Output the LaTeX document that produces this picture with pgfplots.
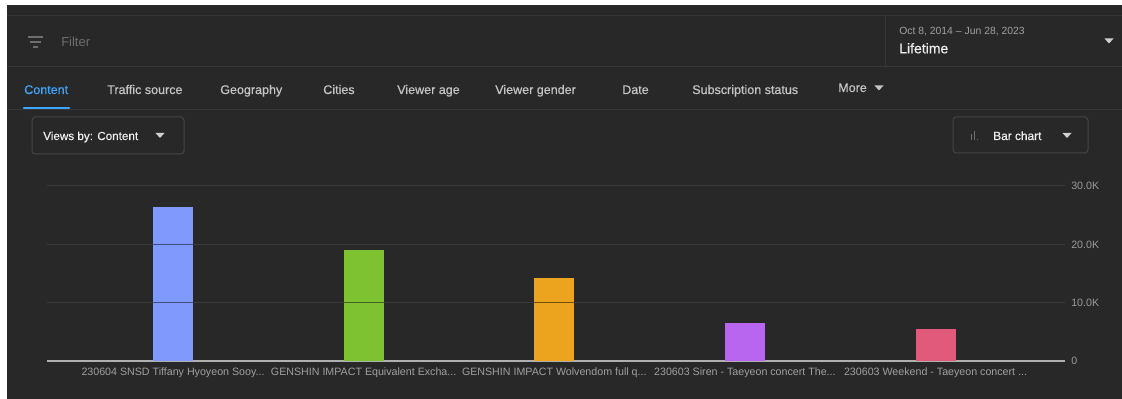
\documentclass[border=0pt]{standalone}
\usepackage{pgfplots}
\pgfplotsset{compat=1.18}
\usepackage{fontspec}
\setmainfont{Liberation Sans}
\newfontfamily\med[FakeBold=0.6]{Liberation Sans}
\definecolor{bg}{HTML}{282828}
\definecolor{sep}{HTML}{363636}
\definecolor{boxc}{HTML}{454545}
\definecolor{gridc}{HTML}{3A3A3A}
\definecolor{basec}{HTML}{B0B0B0}
\definecolor{tabtxt}{HTML}{C4C4C4}
\definecolor{dimtxt}{HTML}{A0A0A0}
\definecolor{ticktxt}{HTML}{9A9A9A}
\definecolor{filtc}{HTML}{6E6E6E}
\definecolor{brt}{HTML}{EEEEEE}
\definecolor{tri}{HTML}{D0D0D0}
\definecolor{ytab}{HTML}{3EA6FF}
\definecolor{cA}{HTML}{7F9AFC}
\definecolor{cB}{HTML}{7EC232}
\definecolor{cC}{HTML}{ECA41E}
\definecolor{cD}{HTML}{B866F0}
\definecolor{cE}{HTML}{E15A7B}
\newcommand{\fs}[1]{\fontsize{#1}{#1}\selectfont}
\newcommand{\dts}{...}
\begin{document}
\begin{tikzpicture}
\begin{scope}[x=0.75pt,y=-0.75pt]
\fill[bg,use as bounding box] (0,0) rectangle (1122,399);
\fill[white] (0,0) rectangle (1122,5);
\fill[white] (0,0) rectangle (7,399);
% separators
\draw[sep,line width=0.75pt] (7,16) -- (1122,16);
\draw[sep,line width=0.75pt] (7,67) -- (1122,67);
\draw[sep,line width=0.75pt] (7,110) -- (1122,110);
\draw[sep,line width=0.75pt] (885,16) -- (885,67);
% filter
\draw[color=filtc,line width=1.1pt] (28,37) -- (43,37);
\draw[color=filtc,line width=1.1pt] (30,42) -- (41,42);
\draw[color=filtc,line width=1.1pt] (33,47) -- (38,47);
\node[anchor=base west,inner sep=0pt,text=filtc,font=\fs{9.75}] at (61,46.5) {Filter};
% date
\node[anchor=base west,inner sep=0pt,text=dimtxt,font=\fs{7.8}] at (899,34.3) {Oct 8, 2014 – Jun 28, 2023};
\node[anchor=base west,inner sep=0pt,text=brt,font=\med\fs{10.5}] at (899,53.3) {Lifetime};
\fill[tri] (1104.5,38.5) -- (1113.5,38.5) -- (1109,43.5) -- cycle;
% tabs
\node[anchor=base west,inner sep=0pt,text=ytab,font=\med\fs{9.4}] at (24,94) {Content};
\draw[ytab,line width=2pt,line cap=round] (24,108) -- (69,108);
\foreach \xx/\tt in {107/Traffic source,220/Geography,323/Cities,397/Viewer age,495/Viewer gender,622/Date,692/Subscription status}{
  \node[anchor=base west,inner sep=0pt,text=tabtxt,font=\med\fs{9.4}] at (\xx,94) {\tt};
}
\node[anchor=base west,inner sep=0pt,text=tabtxt,font=\med\fs{9.4}] at (838,92) {More};
\fill[tabtxt] (874.5,85.5) -- (883.5,85.5) -- (879,90.5) -- cycle;
% views by box
\draw[color=boxc,line width=0.75pt,rounded corners=2.5pt] (32,117) rectangle (184,154);
\node[anchor=base west,inner sep=0pt,text=brt,font=\med\fs{8.75}] at (43,140) {Views by: Content};
\fill[tri] (155.5,133) -- (164.5,133) -- (160,138) -- cycle;
% bar chart box
\draw[color=boxc,line width=0.75pt,rounded corners=2.5pt] (953,117) rectangle (1088,153);
\fill[filtc] (970.5,134) rectangle (971.5,140);
\fill[filtc] (973.5,131) rectangle (974.5,140);
\fill[filtc] (976.5,139) rectangle (977.5,140);
\node[anchor=base west,inner sep=0pt,text=brt,font=\med\fs{8.9}] at (993,140) {Bar chart};
\fill[tri] (1062.5,133) -- (1071.5,133) -- (1067,138) -- cycle;
\end{scope}
\begin{axis}[
  at={(35.25pt,-270.75pt)}, anchor=south west,
  scale only axis, width=763.5pt, height=131.25pt,
  xmin=-0.661, xmax=4.679, ymin=0, ymax=30000,
  axis x line*=bottom, axis y line*=right,
  x axis line style={-, color=basec, line width=1.1pt},
  y axis line style={draw=none},
  xtick={0,1,2,3,4},
  xticklabels={{230604 SNSD Tiffany Hyoyeon Sooy\dts},{GENSHIN IMPACT Equivalent Excha\dts},{GENSHIN IMPACT Wolvendom full q\dts},{230603 Siren - Taeyeon concert The\dts},{230603 Weekend - Taeyeon concert \dts}},
  xticklabel style={anchor=base, inner sep=0pt, yshift=-10.5pt, text=dimtxt, font=\fs{8.0}},
  major tick length=0pt,
  ytick={0,10000,20000,30000},
  yticklabels={0,10.0K,20.0K,30.0K},
  yticklabel style={anchor=west, inner sep=0pt, xshift=4.5pt, text=ticktxt, font=\fs{8.0}},
  ymajorgrids, grid style={color=gridc, line width=0.75pt},
  scaled y ticks=false,
]
\addplot[ybar, bar width=30pt, fill=cA, draw=none] coordinates {(0,26350)};
\addplot[ybar, bar width=30pt, fill=cB, draw=none] coordinates {(1,18950)};
\addplot[ybar, bar width=30pt, fill=cC, draw=none] coordinates {(2,14300)};
\addplot[ybar, bar width=30pt, fill=cD, draw=none] coordinates {(3,6600)};
\addplot[ybar, bar width=30pt, fill=cE, draw=none] coordinates {(4,5550)};
\addplot[draw=black, opacity=0.5, line width=0.8pt] coordinates {(-0.105,10000) (0.105,10000)};
\addplot[draw=black, opacity=0.5, line width=0.8pt] coordinates {(-0.105,20000) (0.105,20000)};
\addplot[draw=black, opacity=0.5, line width=0.8pt] coordinates {(0.895,10000) (1.105,10000)};
\addplot[draw=black, opacity=0.5, line width=0.8pt] coordinates {(1.895,10000) (2.105,10000)};
\end{axis}
\end{tikzpicture}
\end{document}
